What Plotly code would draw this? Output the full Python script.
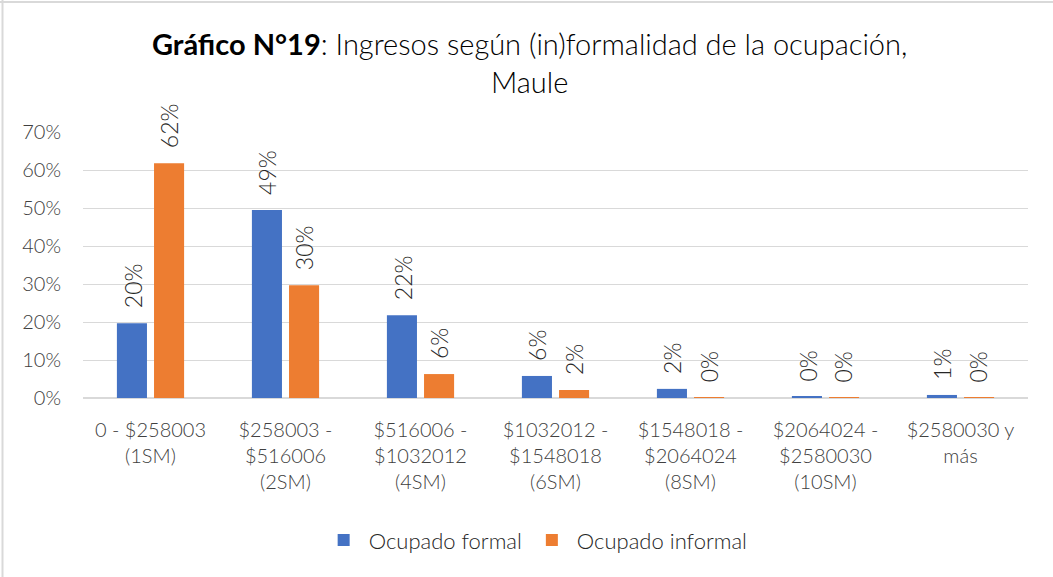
import plotly.graph_objects as go

categories = [
    "0 - $258003<br>(1SM)",
    "$258003 -<br>$516006<br>(2SM)",
    "$516006 -<br>$1032012<br>(4SM)",
    "$1032012 -<br>$1548018<br>(6SM)",
    "$1548018 -<br>$2064024<br>(8SM)",
    "$2064024 -<br>$2580030<br>(10SM)",
    "$2580030 y<br>más",
]
formal = [0.197, 0.495, 0.218, 0.058, 0.024, 0.004, 0.008]
informal = [0.618, 0.297, 0.063, 0.021, 0.002, 0.001, 0.001]
formal_labels = ["20%", "49%", "22%", "6%", "2%", "0%", "1%"]
informal_labels = ["62%", "30%", "6%", "2%", "0%", "0%", "0%"]
y_ticks = [0, 0.1, 0.2, 0.3, 0.4, 0.5, 0.6, 0.7]
y_tick_text = ["0%", "10%", "20%", "30%", "40%", "50%", "60%", "70%"]

FONT = "Lato"
GRID = "#D9D9D9"
TICK_COLOR = "#404040"

fig = go.Figure()
fig.add_trace(go.Bar(name="Ocupado formal", x=categories, y=formal,
                     marker_color="#4472C4", marker_line_width=0))
fig.add_trace(go.Bar(name="Ocupado informal", x=categories, y=informal,
                     marker_color="#ED7D31", marker_line_width=0))

annotations = []
for series, labels, shift in ((formal, formal_labels, -18), (informal, informal_labels, 18)):
    for cat, val, lab in zip(categories, series, labels):
        annotations.append(dict(
            x=cat, y=val, xref="x", yref="y", text=lab, showarrow=False,
            textangle=-90, xanchor="center", yanchor="bottom",
            xshift=shift, yshift=13,
            font=dict(family=FONT, size=23, color="#262626", weight=300),
        ))

fig.update_layout(
    width=1053, height=577,
    paper_bgcolor="white", plot_bgcolor="white",
    margin=dict(l=83, r=25, t=132, b=179),
    barmode="group", bargap=0.45, bargroupgap=0.19,
    font=dict(family=FONT, size=20, color=TICK_COLOR),
    title=dict(
        text="<b>Gráfico N°19</b>: Ingresos según (in)formalidad de la ocupación,<br>Maule",
        x=0.503, xanchor="center", y=0.905, yanchor="top",
        font=dict(family=FONT, size=29, color="#000000", weight=300),
    ),
    legend=dict(
        orientation="h", x=0.479, xanchor="center", y=-0.535, yanchor="middle",
        font=dict(family=FONT, size=22, color="#262626", weight=300),
        itemwidth=40,
    ),
    annotations=annotations,
    shapes=[
        dict(type="line", xref="paper", yref="paper",
             x0=-83 / 945, x1=1.1, y0=1 + 130 / 266, y1=1 + 130 / 266,
             line=dict(color=GRID, width=2)),
        dict(type="line", xref="paper", yref="paper",
             x0=-80.5 / 945, x1=-80.5 / 945, y0=-0.8, y1=1.5,
             line=dict(color=GRID, width=2)),
    ],
)
fig.update_yaxes(
    range=[0, 0.7], tickvals=y_ticks, ticktext=y_tick_text,
    showgrid=True, gridcolor=GRID, gridwidth=1, zeroline=True,
    zerolinecolor=GRID, showline=False,
    ticks="outside", ticklen=17, tickcolor="rgba(0,0,0,0)",
    tickfont=dict(family=FONT, size=20, color=TICK_COLOR, weight=300),
)
fig.update_xaxes(
    showline=True, linecolor=GRID, tickangle=0,
    ticks="outside", ticklen=14, tickcolor="rgba(0,0,0,0)",
    tickfont=dict(family=FONT, size=20, color=TICK_COLOR, weight=300),
)

fig.write_html("out.html", config={"displayModeBar": False},
               post_script="document.body.style.margin='0';")
